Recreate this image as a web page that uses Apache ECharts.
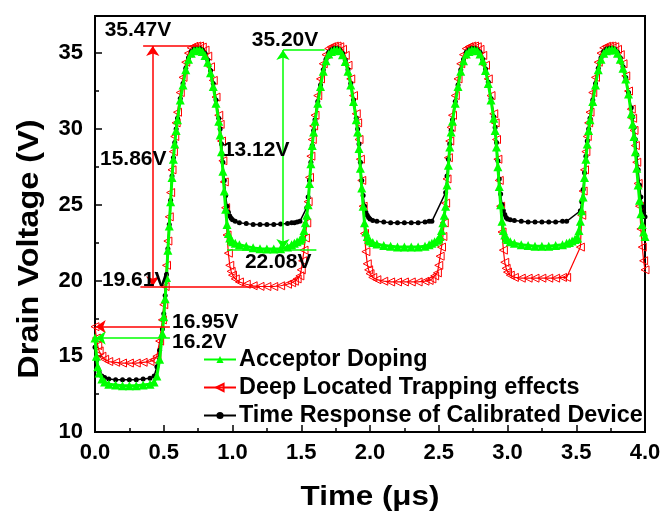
<!DOCTYPE html>
<html>
<head>
<meta charset="utf-8">
<script src="https://cdn.jsdelivr.net/npm/echarts@6/dist/echarts.min.js"></script>
<style>html,body{margin:0;padding:0;background:#fff}#c{width:665px;height:517px}</style>
</head>
<body>
<div id="c"></div>
<script>
// ---- data ----
const time = [
 0,0.01,0.02,0.03,0.05,0.07,0.1,0.15,0.2,0.25,0.3,0.35,0.4,0.43,
 0.45,0.47,0.49,0.5,0.51,0.52,0.53,0.54,0.55,0.56,0.57,0.58,0.59,0.6,0.62,0.64,0.66,0.68,0.7,0.72,0.74,0.76,0.78,0.8,0.82,0.84,0.86,0.88,0.9,0.91,0.92,0.93,0.94,0.95,0.96,0.97,0.98,0.99,1.0,
 1.02,1.05,1.1,1.15,1.2,1.25,1.3,1.35,1.4,1.43,
 1.45,1.47,1.49,1.5,1.51,1.52,1.53,1.54,1.55,1.56,1.57,1.58,1.59,1.6,1.62,1.64,1.66,1.68,1.7,1.72,1.74,1.76,1.78,1.8,1.82,1.84,1.86,1.88,1.9,1.91,1.92,1.93,1.94,1.95,1.96,1.97,1.98,1.99,2.0,
 2.02,2.05,2.1,2.15,2.2,2.25,2.3,2.35,2.4,2.43,
 2.45,2.47,2.49,2.5,2.51,2.52,2.53,2.54,2.55,2.56,2.57,2.58,2.59,2.6,2.62,2.64,2.66,2.68,2.7,2.72,2.74,2.76,2.78,2.8,2.82,2.84,2.86,2.88,2.9,2.91,2.92,2.93,2.94,2.95,2.96,2.97,2.98,2.99,3.0,
 3.02,3.05,3.1,3.15,3.2,3.25,3.3,3.35,3.4,3.43,
 3.45,3.47,3.49,3.5,3.51,3.52,3.53,3.54,3.55,3.56,3.57,3.58,3.59,3.6,3.62,3.64,3.66,3.68,3.7,3.72,3.74,3.76,3.78,3.8,3.82,3.84,3.86,3.88,3.9,3.91,3.92,3.93,3.94,3.95,3.96,3.97,3.98,3.99,4.0
];
const acceptorDoping = [
 16.2,15.0,14.3,13.9,13.5,13.3,13.15,13.1,13.05,13.05,13.05,13.1,13.15,13.3,
 13.7,14.8,16.5,17.6,18.8,20.2,22.0,23.6,25.2,26.8,28.0,29.0,29.9,30.6,31.9,32.9,33.9,34.6,35.0,35.15,35.2,35.2,35.1,34.85,34.4,33.7,32.8,31.7,30.5,29.6,28.5,27.2,25.9,24.7,23.7,23.1,22.8,22.65,22.55,
 22.45,22.35,22.25,22.15,22.1,22.08,22.08,22.1,22.2,22.35,
 22.45,22.55,22.65,22.75,22.9,23.3,23.8,24.3,25.0,26.4,27.7,28.9,29.8,30.5,31.7,32.8,33.8,34.5,34.95,35.1,35.2,35.2,35.15,34.9,34.45,33.8,32.9,31.8,30.6,29.8,28.7,27.4,26.1,24.9,23.8,23.2,22.9,22.7,22.6,
 22.5,22.4,22.3,22.25,22.2,22.2,22.2,22.2,22.25,22.35,
 22.45,22.55,22.65,22.75,22.9,23.3,23.8,24.3,24.9,26.3,27.6,28.8,29.8,30.5,31.7,32.8,33.8,34.5,34.95,35.1,35.2,35.2,35.15,34.95,34.5,33.85,33.0,31.9,30.7,29.9,28.8,27.5,26.2,25.0,23.9,23.3,23.0,22.8,22.7,
 22.55,22.45,22.35,22.3,22.25,22.25,22.25,22.3,22.35,22.45,
 22.5,22.6,22.7,22.75,22.8,23.3,23.9,24.6,25.5,26.8,28.0,29.0,29.9,30.6,31.8,32.9,33.9,34.6,35.0,35.15,35.2,35.25,35.2,35.0,34.6,34.0,33.3,32.3,31.0,30.3,29.5,28.5,27.4,26.3,25.3,24.4,23.7,23.2,22.9
];
const deepTrapping = [
 16.95,16.2,15.7,15.35,15.0,14.8,14.65,14.6,14.55,14.55,14.55,14.6,14.65,14.75,
 15.0,16.0,17.4,18.4,19.6,21.0,22.6,24.2,25.8,27.3,28.5,29.5,30.4,31.1,32.4,33.4,34.4,35.0,35.35,35.45,35.47,35.47,35.4,35.2,34.8,34.1,33.2,32.1,30.9,30.3,29.2,27.9,26.5,24.8,23.0,21.8,21.0,20.6,20.35,
 20.1,19.9,19.75,19.65,19.61,19.6,19.6,19.65,19.75,19.85,
 19.95,20.1,20.3,20.7,21.3,22.0,22.8,23.8,25.2,26.8,28.2,29.3,30.2,30.9,32.2,33.3,34.3,34.9,35.3,35.42,35.47,35.47,35.42,35.25,34.85,34.2,33.3,32.2,31.0,30.4,29.3,28.0,26.6,24.9,23.1,21.9,21.1,20.7,20.45,
 20.2,20.05,19.95,19.9,19.9,19.9,19.9,19.9,19.95,20.0,
 20.1,20.3,20.5,21.0,21.6,22.2,22.9,23.8,25.1,26.7,28.1,29.2,30.1,30.9,32.2,33.3,34.3,34.9,35.3,35.42,35.47,35.47,35.42,35.25,34.85,34.2,33.3,32.2,31.0,30.4,29.3,28.0,26.6,24.9,23.2,22.0,21.2,20.8,20.55,
 20.35,20.2,20.15,20.15,20.15,20.15,20.15,20.15,20.2,20.2,
 null,null,null,null,null,null,22.2,24.3,25.9,27.3,28.5,29.5,30.4,31.1,32.4,33.4,34.4,35.0,35.35,35.45,35.47,35.47,35.42,35.25,34.9,34.3,33.5,32.5,31.3,30.7,29.9,28.9,27.8,26.4,24.9,23.4,22.2,21.3,20.7
];
const calibratedDevice = [
 15.6,14.7,14.2,13.95,13.7,13.6,13.5,13.45,13.45,13.45,13.45,13.5,13.55,13.7,
 14.3,15.4,16.8,17.8,19.0,20.4,22.1,23.7,25.3,26.9,28.1,29.1,30.0,30.7,32.0,33.0,34.0,34.7,35.1,35.25,35.3,35.3,35.2,35.0,34.55,33.85,33.0,31.9,30.7,30.0,29.0,27.8,26.6,25.6,24.9,24.5,24.25,24.1,24.0,
 23.9,23.8,23.75,23.7,23.7,23.7,23.7,23.72,23.75,23.8,
 23.8,23.85,23.9,null,null,null,null,24.8,25.5,26.6,27.8,28.9,29.9,30.6,31.8,32.9,33.9,34.6,35.05,35.2,35.3,35.3,35.2,35.0,34.55,33.9,33.0,31.9,30.7,30.0,29.0,27.8,26.6,25.6,24.9,24.5,24.3,24.15,24.05,
 23.95,23.9,23.85,23.8,23.8,23.8,23.8,23.8,23.85,23.9,
 23.9,null,null,null,null,null,null,null,25.8,26.9,28.0,29.0,29.9,30.6,31.8,32.9,33.9,34.6,35.05,35.2,35.3,35.3,35.2,35.05,34.6,33.95,33.1,32.0,30.8,30.1,29.1,27.9,26.7,25.7,25.0,24.6,24.35,24.15,24.05,
 24.0,23.95,23.9,23.85,23.85,23.85,23.85,23.85,23.9,23.9,
 null,null,null,null,null,null,24.6,25.2,26.0,27.1,28.2,29.2,30.0,30.7,31.9,33.0,34.0,34.7,35.1,35.25,35.3,35.3,35.25,35.05,34.7,34.1,33.4,32.4,31.4,30.8,30.1,29.3,28.3,27.3,26.3,25.5,24.9,24.5,24.2
];
const seriesNames = ['Acceptor Doping','Deep Located Trapping effects','Time Response of Calibrated Device'];
const xTicks = [0,0.5,1,1.5,2,2.5,3,3.5,4];
const yTicks = [10,15,20,25,30,35];
// annotation texts
const annotTexts = ['35.47V','15.86V','19.61V','35.20V','13.12V','22.08V','16.95V','16.2V'];

const pair = arr => time.map((t,i)=>[t, arr[i]]);

const chart = echarts.init(document.getElementById('c'), null, {renderer:'canvas'});
const FONT = 'Liberation Sans, Arial, sans-serif';

const mlRed = {
  silent:true, animation:false, symbolSize:10, label:{show:false},
  lineStyle:{color:'#ff0000', width:1.5, type:'solid'},
  emphasis:{disabled:true},
  data:[
    [{coord:[0.35,35.47],symbol:'none'},{coord:[0.76,35.47],symbol:'none'}],
    [{coord:[0.42,19.61],symbol:'arrow'},{coord:[0.42,35.47],symbol:'arrow'}],
    [{coord:[0.33,19.61],symbol:'none'},{coord:[1.2,19.61],symbol:'none'}],
    [{coord:[0.545,16.95],symbol:'none'},{coord:[0.005,16.95],symbol:'arrow'}]
  ]
};
const mlGreen = {
  silent:true, animation:false, symbolSize:10, label:{show:false},
  lineStyle:{color:'#00ff00', width:1.5, type:'solid'},
  emphasis:{disabled:true},
  data:[
    [{coord:[1.367,22.08],symbol:'arrow'},{coord:[1.367,35.2],symbol:'arrow'}],
    [{coord:[1.367,35.2],symbol:'none'},{coord:[1.67,35.2],symbol:'none'}],
    [{coord:[0.96,22.0],symbol:'none'},{coord:[1.61,22.0],symbol:'none'}],
    [{coord:[0.545,16.2],symbol:'none'},{coord:[0.005,16.2],symbol:'arrow'}]
  ]
};

chart.setOption({
  animation:false,
  backgroundColor:'#fff',
  grid:{left:95, right:20, top:16, bottom:85, show:true, borderColor:'#000', borderWidth:2, backgroundColor:'transparent'},
  xAxis:{
    type:'value', min:0, max:4, interval:0.5,
    axisLine:{show:true, lineStyle:{color:'#000', width:2}},
    axisTick:{show:true, inside:true, length:7, lineStyle:{color:'#000', width:1.5}},
    minorTick:{show:true, splitNumber:2, length:4, lineStyle:{color:'#000', width:1.5}},
    splitLine:{show:false},
    axisLabel:{color:'#000', fontFamily:FONT, fontWeight:'bold', fontSize:22, margin:10,
      formatter: v => xTicks.indexOf(v) >= 0 ? v.toFixed(1) : ''}
  },
  yAxis:{
    type:'value', min:10, max:37.45, interval:5,
    axisLine:{show:true, lineStyle:{color:'#000', width:2}},
    axisTick:{show:true, inside:true, length:7, lineStyle:{color:'#000', width:1.5}},
    minorTick:{show:true, splitNumber:2, length:4, lineStyle:{color:'#000', width:1.5}},
    splitLine:{show:false},
    axisLabel:{color:'#000', fontFamily:FONT, fontWeight:'bold', fontSize:22, margin:12, showMaxLabel:false,
      formatter: v => yTicks.indexOf(v) >= 0 ? String(v) : ''}
  },
  legend:{
    orient:'vertical', left:198, top:343, itemGap:5, itemWidth:32, itemHeight:9,
    data:[seriesNames[0], seriesNames[1], seriesNames[2]],
    textStyle:{color:'#000', fontFamily:FONT, fontWeight:'bold', fontSize:23.4, padding:[0,0,0,-2]},
    selectedMode:false
  },
  series:[
    {
      name:seriesNames[1], type:'line', data:pair(deepTrapping), connectNulls:true,
      symbol:'triangle', symbolSize:8, symbolRotate:90, showAllSymbol:true,
      itemStyle:{color:'rgba(255,255,255,0)', borderColor:'#ff0000', borderWidth:1},
      lineStyle:{color:'#ff0000', width:1.2}, z:2, markLine:mlRed
    },
    {
      name:seriesNames[2], type:'line', data:pair(calibratedDevice), connectNulls:true,
      symbol:'circle', symbolSize:5, showAllSymbol:true,
      itemStyle:{color:'#000'}, lineStyle:{color:'#000', width:1.5}, z:3
    },
    {
      name:seriesNames[0], type:'line', data:pair(acceptorDoping), connectNulls:true,
      symbol:'triangle', symbolSize:9, showAllSymbol:true,
      itemStyle:{color:'#00ff00'}, lineStyle:{color:'#00ff00', width:3}, z:4, markLine:mlGreen
    }
  ]
});

// annotation texts, placed in data units
const annotPos = [[0.07,36.5],[0.036,27.95],[0.05,20.03],[1.14,35.86],[0.93,28.6],[1.09,21.2],[0.56,17.2],[0.56,15.9]];
const toPx = p => chart.convertToPixel({xAxisIndex:0, yAxisIndex:0}, p);
const g = annotTexts.map((txt,i)=>{
  const p = toPx(annotPos[i]);
  return {type:'text', x:p[0], y:p[1], z:100, scaleX:1.05,
    style:{text:txt, font:'bold 20px '+FONT, fill:'#000', textAlign:'left', textVerticalAlign:'middle'}};
});
g.push({type:'text', x:30, y:249, rotation:Math.PI/2, scaleX:1.12, z:100,
  style:{text:'Drain Voltage (V)', font:'bold 29px '+FONT, fill:'#000', textAlign:'center', textVerticalAlign:'middle'}});
g.push({type:'text', x:370, y:497, scaleX:1.12, z:100,
  style:{text:'Time (\u03bcs)', font:'bold 28px '+FONT, fill:'#000', textAlign:'center', textVerticalAlign:'middle'}});
chart.setOption({graphic:g});
</script>
</body>
</html>
